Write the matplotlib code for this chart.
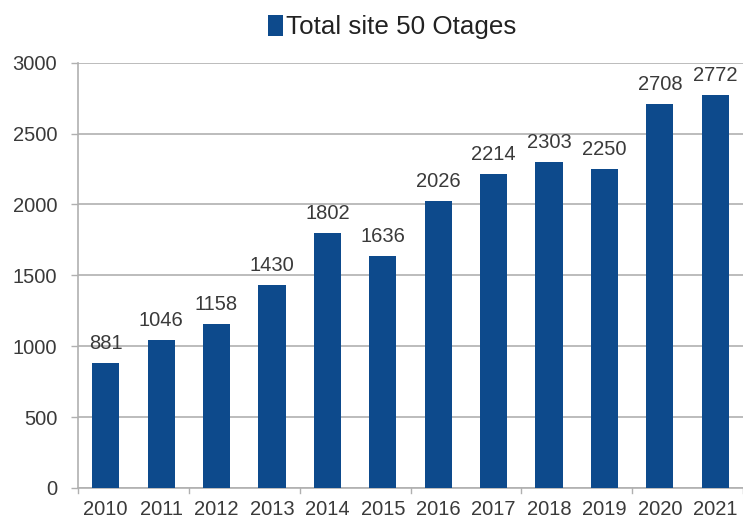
import matplotlib.pyplot as plt
import numpy as np

years = ["2010", "2011", "2012", "2013", "2014", "2015",
         "2016", "2017", "2018", "2019", "2020", "2021"]
totals = [881, 1046, 1158, 1430, 1802, 1636, 2026, 2214, 2303, 2250, 2708, 2772]
series_name = "Total site 50 Otages"

BAR_COLOR = "#0d4a8c"
TEXT_COLOR = "#3a3a3a"
GRID_COLOR = "#b0b0b0"

plt.rcParams["font.family"] = ["Liberation Sans", "DejaVu Sans"]


def main():
    fig = plt.figure(figsize=(7.43, 5.25), dpi=100)
    ax = fig.add_axes([0.105, 0.0705, 0.895, 0.81])

    x = np.arange(len(years))
    bars = ax.bar(x, totals, width=0.49, color=BAR_COLOR, label=series_name, zorder=3)

    for b, v in zip(bars, totals):
        ax.text(b.get_x() + b.get_width() / 2, v + 70, str(v),
                ha="center", va="bottom", fontsize=14.5, color=TEXT_COLOR)

    ax.set_xlim(-0.5, len(years) - 0.5)
    ax.set_ylim(0, 3000)
    ax.set_yticks(np.arange(0, 3001, 500))
    ax.set_xticks(x)
    ax.set_xticklabels(years)
    ax.tick_params(axis="x", length=0, labelsize=14.5, colors=TEXT_COLOR, pad=9)
    ax.tick_params(axis="y", length=5, width=1, color=GRID_COLOR,
                   labelsize=14.5, labelcolor=TEXT_COLOR, pad=10)

    # small tick marks every two categories along the baseline
    for bx in np.arange(-0.5, len(years), 2):
        ax.plot([bx, bx], [0, -0.012], transform=ax.get_xaxis_transform(),
                color=GRID_COLOR, lw=1, clip_on=False)

    ax.yaxis.grid(True, color=GRID_COLOR, lw=1.2, zorder=0)
    for s in ["top", "right"]:
        ax.spines[s].set_visible(False)
    ax.spines["left"].set_color(GRID_COLOR)
    ax.spines["bottom"].set_color(GRID_COLOR)
    ax.spines["left"].set_linewidth(1.2)
    ax.spines["bottom"].set_linewidth(1.2)

    fig.legend(loc="center", bbox_to_anchor=(0.528, 0.948), frameon=False,
               fontsize=18.7, handlelength=0.55, handleheight=0.85,
               handletextpad=0.12, labelcolor="#222222")

    fig.savefig("out.png", dpi=100)


if __name__ == "__main__":
    main()
